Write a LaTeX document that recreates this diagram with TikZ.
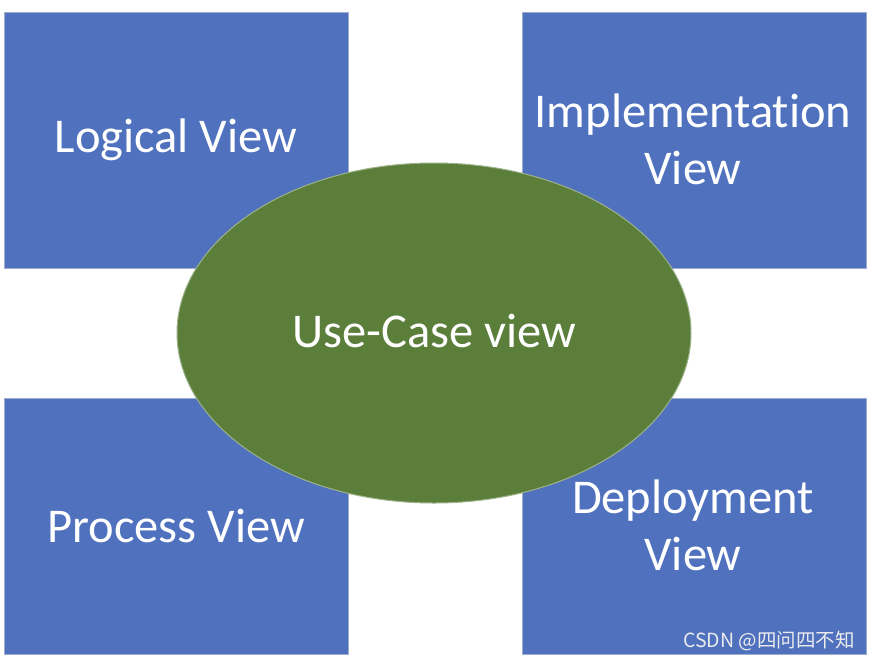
\documentclass[tikz,border=0pt]{standalone}
\usepackage{fontspec}
\setmainfont[Ligatures=NoCommon]{Carlito}
\newfontfamily\cjk{Noto Sans CJK SC}
\definecolor{viewblue}{HTML}{4F71BE}
\definecolor{viewgreen}{HTML}{5B7E3B}
\begin{document}
\begin{tikzpicture}[x=1pt,y=-1pt,
  viewbox/.style={fill=viewblue,draw=viewblue!70!gray!60,line width=0.8pt},
  viewtext/.style={text=white,font=\fontsize{48.5}{57}\selectfont,align=center,inner sep=0pt},
  usecase/.style={fill=viewgreen,draw=viewgreen!60!white,line width=1pt}]
\useasboundingbox (0,0) rectangle (870,662);
\fill[white] (0,0) rectangle (870,662);
% boxes
\path[viewbox] (4,12) rectangle (348,268);
\path[viewbox] (522,12) rectangle (866,268);
\path[viewbox] (4,398) rectangle (348,654);
\path[viewbox] (522,398) rectangle (866,654);
% labels of boxes
\node[viewtext] (logical) at (176,140) {Logical View};
\node[viewtext] (process) at (176,526) {Process View};
% ellipse
\path[usecase] (434,333) ellipse [x radius=257, y radius=170];
\node[viewtext] (usecase) at (434,331) {Use-Case view};
\node[viewtext] (impl) at (693,139) {Implementation\\View};
\node[viewtext] (deploy) at (693,525) {Deployment\\View};
% watermark
\node[text=white!85!gray,font=\cjk\fontsize{19.5}{22}\selectfont,inner sep=0pt,anchor=east] (wm) at (855,641) {CSDN @四问四不知};
\end{tikzpicture}
\end{document}
